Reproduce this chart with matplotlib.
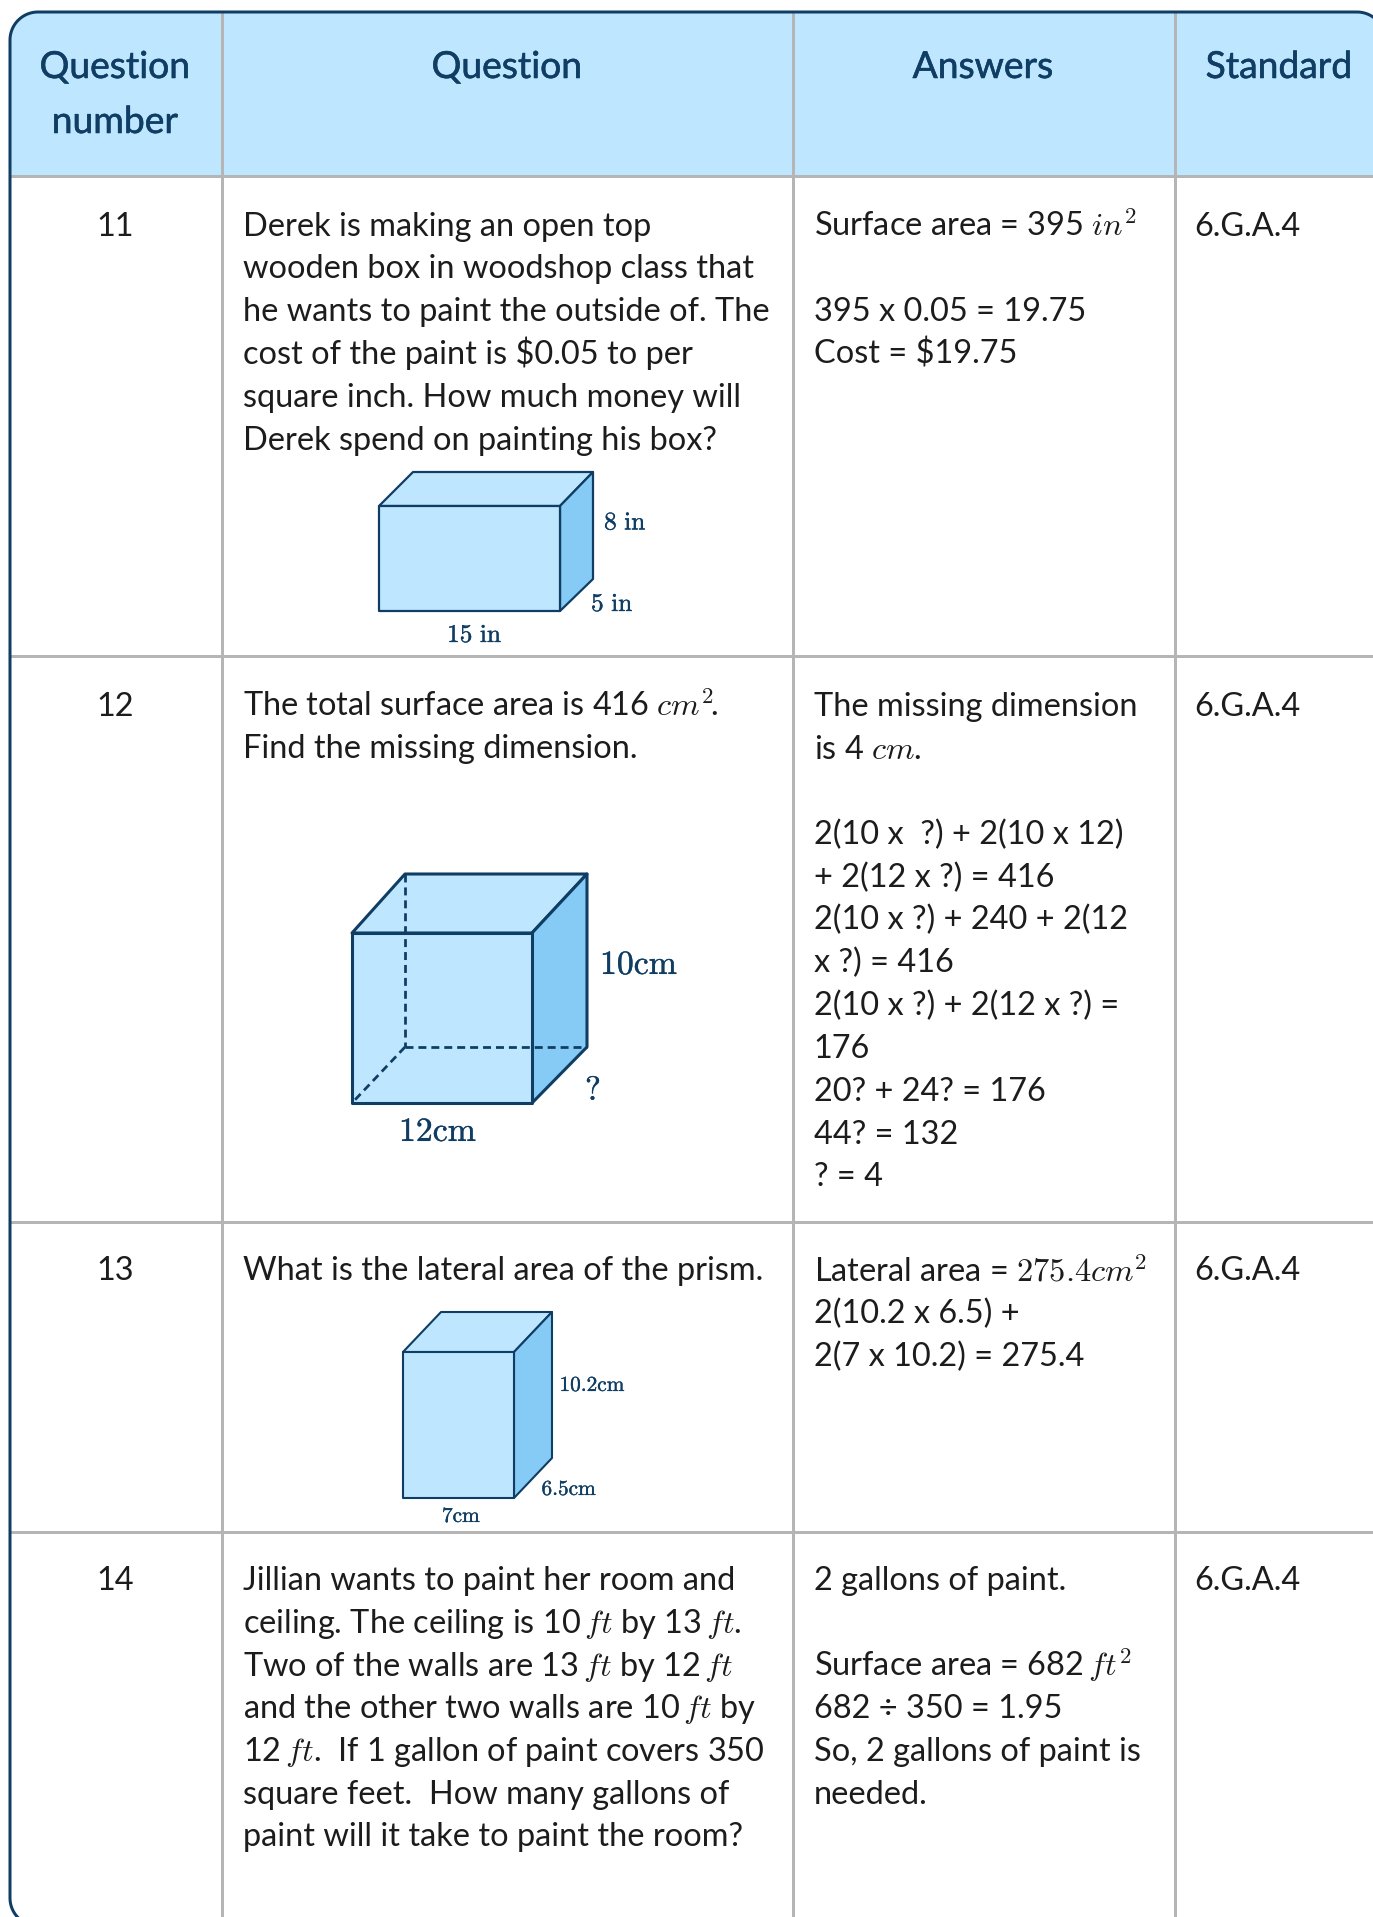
import numpy as np
import matplotlib
matplotlib.use("Agg")
import matplotlib.pyplot as plt
import matplotlib.patheffects as pe
from matplotlib.patches import Polygon, Rectangle

# ---------- content ----------
headers = [["Question", "number"], ["Question"], ["Answers"], ["Standard"]]
numbers = ["11", "12", "13", "14"]
standards = ["6.G.A.4", "6.G.A.4", "6.G.A.4", "6.G.A.4"]
questions = [
    ["Derek is making an open top", "wooden box in woodshop class that",
     "he wants to paint the outside of. The", "cost of the paint is \\$0.05 to per",
     "square inch. How much money will", "Derek spend on painting his box?"],
    ["The total surface area is 416 $cm^2\\!$.", "Find the missing dimension."],
    ["What is the lateral area of the prism."],
    ["Jillian wants to paint her room and", "ceiling. The ceiling is 10$\\,ft$ by 13$\\,ft$.",
     "Two of the walls are 13$\\,ft$ by 12$\\,ft$", "and the other two walls are 10$\\,ft$ by",
     "12$\\,ft$.  If 1 gallon of paint covers 350", "square feet.  How many gallons of",
     "paint will it take to paint the room?"],
]
answers = [
    ["Surface area = 395$\\;in^2$", "", "395 x 0.05 = 19.75", "Cost = \\$19.75"],
    ["The missing dimension", "is 4 $cm$.", "", "2(10 x  ?) + 2(10 x 12)", "+ 2(12 x ?) = 416",
     "2(10 x ?) + 240 + 2(12", "x ?) = 416", "2(10 x ?) + 2(12 x ?) =", "176",
     "20? + 24? = 176", "44? = 132", "? = 4"],
    ["Lateral area = $275.4cm^2$", "2(10.2 x 6.5) +", "2(7 x 10.2) = 275.4"],
    ["2 gallons of paint.", "", "Surface area = 682$\\,ft^2$", "682 ÷ 350 = 1.95",
     "So, 2 gallons of paint is", "needed."],
]
box_labels = [
    ["8 in", "5 in", "15 in"],
    ["10cm", "?", "12cm"],
    ["10.2cm", "6.5cm", "7cm"],
]

# ---------- layout (pixels of the 1373x1917 picture) ----------
W, H = 1373, 1917
FONT = "Lato"
NAVY, LIGHT, MID, GREY, INK = "#0F3D63", "#BEE6FF", "#85CBF5", "#B5B5B5", "#1C1C1C"
col_lines = [222, 793, 1174.5]
row_lines = [176.5, 656.5, 1222, 1532.5]
row_baselines = [235.5, 715.5, 1280.5, 1589.5]
line_h = 42.8
num_x, q_x, a_x, s_x = 115, 243, 813.5, 1194.5
head_x = [115, 507, 983, 1279]
head_base = [78, 133]
boxes = [  # front x0,x1,y0(top),y1(bottom), back x0,x1,y0,y1, dashed, lw
    (379, 560, 506, 611, 413, 593, 472, 579, False, 1.6),
    (352, 532, 933, 1103, 405, 587, 874, 1047, True, 2.2),
    (403, 514, 1352, 1498, 441, 552, 1312, 1458, False, 1.5),
]
label_pos = [
    [(604, 529.5), (591, 611), (447, 642)],
    [(600, 974), (585, 1100), (399, 1141)],
    [(559.5, 1391), (541.5, 1495), (442, 1522)],
]
label_size = [18.3, 24.3, 15.3]
BODY, HEAD = 23.4, 26.8
MATH_SHIFT = 0.6

px = 0.72  # points per pixel at dpi 100
plt.rcParams["mathtext.fontset"] = "cm"
plt.rcParams["mathtext.default"] = "it"
fig = plt.figure(figsize=(W / 100, H / 100), dpi=100)
ax = fig.add_axes([0, 0, 1, 1])
ax.set_xlim(0, W)
ax.set_ylim(H, 0)
ax.axis("off")

frame_x0, frame_x1, frame_y0, frame_y1, rad = 10, 1385, 12, 1926, 28


def rounded(x0, x1, y0, y1, r, n=24):
    t = np.linspace(0, np.pi / 2, n)
    c, s = np.cos(t), np.sin(t)
    xs = np.r_[x1 - r + r * s, x1 - r + r * c, x0 + r - r * s, x0 + r - r * c]
    ys = np.r_[y0 + r - r * c, y1 - r + r * s, y1 - r + r * c, y0 + r - r * s]
    return np.c_[xs, ys]


outline = rounded(frame_x0, frame_x1, frame_y0, frame_y1, rad)
clip = Polygon(outline, closed=True, fc="white", ec="none", zorder=0)
ax.add_patch(clip)
hd = Rectangle((0, 0), W + 20, row_lines[0], fc=LIGHT, ec="none", zorder=1)
ax.add_patch(hd)
hd.set_clip_path(clip)
for x in col_lines:
    l, = ax.plot([x, x], [frame_y0, frame_y1], color=GREY, lw=3 * px, zorder=2, solid_capstyle="butt")
    l.set_clip_path(clip)
for y in row_lines:
    l, = ax.plot([frame_x0, frame_x1], [y, y], color=GREY, lw=3 * px, zorder=2, solid_capstyle="butt")
    l.set_clip_path(clip)
ax.add_patch(Polygon(outline, closed=True, fc="none", ec=NAVY, lw=3 * px, zorder=3))


def put(x, y, s, size=BODY, color=INK, ha="left", heavy=False):
    if s.replace("\\$", "").count("$"):
        y += MATH_SHIFT
    t = ax.text(x, y, s, fontsize=size, color=color, ha=ha, va="baseline",
                family=FONT, math_fontfamily="cm", zorder=5)
    if heavy:
        t.set_path_effects([pe.withStroke(linewidth=0.4, foreground=color)])


for x, lines in zip(head_x, headers):
    for y, s in zip(head_base, lines):
        put(x, y, s, HEAD, NAVY, "center", heavy=True)
for i, by in enumerate(row_baselines):
    put(num_x, by, numbers[i], ha="center")
    put(s_x, by, standards[i])
    for k, s in enumerate(questions[i]):
        if s:
            put(q_x, by + k * line_h, s)
    for k, s in enumerate(answers[i]):
        if s:
            put(a_x, by + k * line_h, s)

for b, labs, pos, size in zip(boxes, box_labels, label_pos, label_size):
    fx0, fx1, fy0, fy1, bx0, bx1, by0, by1, dashed, lw = b
    poly = lambda pts, fc: ax.add_patch(Polygon(pts, closed=True, fc=fc, ec=NAVY, lw=lw, joinstyle="round", zorder=3))
    poly([(fx0, fy0), (bx0, by0), (bx1, by0), (fx1, fy0)], LIGHT)
    poly([(fx1, fy0), (bx1, by0), (bx1, by1), (fx1, fy1)], MID)
    poly([(fx0, fy0), (fx1, fy0), (fx1, fy1), (fx0, fy1)], LIGHT)
    if dashed:
        ds = (0, (2.9, 1.8))
        for xs, ys in [([bx0, bx0], [by0, by1]), ([bx0, bx1], [by1, by1]), ([bx0, fx0], [by1, fy1])]:
            ax.plot(xs, ys, color=NAVY, lw=lw * 0.9, ls=ds, zorder=4, dash_capstyle="butt")
    for (x, y), s in zip(pos, labs):
        txt = "$\\mathrm{" + s.replace(" ", "\\ ") + "}$"
        t = ax.text(x, y, txt, fontsize=size, color=NAVY, ha="left", va="baseline", math_fontfamily="cm", zorder=5)
        t.set_path_effects([pe.withStroke(linewidth=0.25, foreground=NAVY)])

fig.savefig("out.png", dpi=100, facecolor="white")
